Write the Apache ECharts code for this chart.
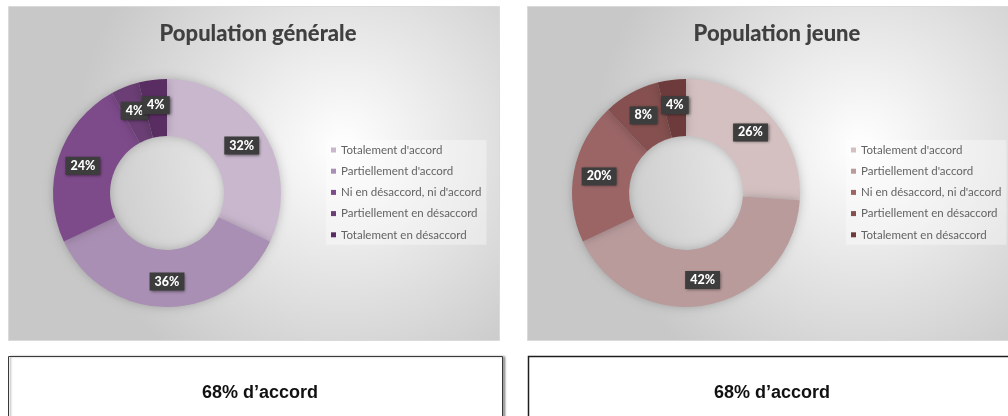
<!DOCTYPE html>
<html>
<head>
<meta charset="utf-8">
<script src="https://cdn.jsdelivr.net/npm/echarts@6/dist/echarts.min.js"></script>
<style>
  html, body { margin: 0; padding: 0; background: #fff; }
  #chart { width: 1008px; height: 416px; }
</style>
</head>
<body>
<div id="chart"></div>
<script>
// answer categories, same for both donuts
const categories = [
  "Totalement d'accord",
  "Partiellement d'accord",
  "Ni en désaccord, ni d'accord",
  'Partiellement en désaccord',
  'Totalement en désaccord'
]
const generalValues = [32, 36, 24, 4, 4]
const youngValues = [26, 42, 20, 8, 4]
const generalColors = ['#c9b7ce', '#a98fb3', '#7d4a8a', '#6b3f75', '#5a2d62']
const youngColors = ['#d4c0c0', '#b99b9c', '#9b6566', '#85504f', '#6d3b3c']
const titles = ['Population générale', 'Population jeune']
const summaries = ['68% d’accord', '68% d’accord']

const panelFill = new echarts.graphic.RadialGradient(0.68, 0.42, 0.8, [
  { offset: 0, color: '#ffffff' },
  { offset: 1, color: '#c8c8c8' }
])

const labelStyle = {
  show: true,
  position: 'inside',
  formatter: '{c}%',
  color: '#fff',
  fontFamily: 'Lato',
  fontWeight: 900,
  fontSize: 12.5,
  backgroundColor: '#3d3d3d',
  padding: [3, 5, 2, 5],
  shadowColor: 'rgba(0,0,0,0.55)',
  shadowBlur: 3,
  shadowOffsetX: 1,
  shadowOffsetY: 1
}

function donut (values, colors, center) {
  return {
    type: 'pie',
    center: center,
    radius: [57, 114],
    startAngle: 90,
    clockwise: true,
    silent: true,
    avoidLabelOverlap: false,
    labelLayout: { hideOverlap: false },
    label: labelStyle,
    labelLine: { show: false },
    itemStyle: { shadowBlur: 10, shadowColor: 'rgba(0,0,0,0.22)' },
    data: values.map((v, i) => ({
      name: categories[i],
      value: v,
      itemStyle: { color: colors[i] }
    }))
  }
}

function legend (left, colors) {
  return {
    orient: 'vertical',
    left: left,
    top: 140,
    padding: [3, 5, 3, 5],
    backgroundColor: 'rgba(255,255,255,0.35)',
    itemWidth: 5,
    itemHeight: 5,
    itemGap: 7.2,
    icon: 'rect',
    selectedMode: false,
    textStyle: { color: '#636363', fontFamily: 'Lato', fontSize: 11.5, lineHeight: 14 },
    data: categories.map((c, i) => ({ name: c, itemStyle: { color: colors[i] } }))
  }
}

const chart = echarts.init(document.getElementById('chart'), null, { renderer: 'canvas' })

const option = {
  animation: false,
  backgroundColor: '#fff',
  title: [
    { text: titles[0], left: 253, top: 18, textAlign: 'center',
      textStyle: { fontFamily: 'Lato', fontWeight: 900, fontSize: 22, color: '#404040' } },
    { text: titles[1], left: 772, top: 18, textAlign: 'center',
      textStyle: { fontFamily: 'Lato', fontWeight: 900, fontSize: 22, color: '#404040' } },
    { text: summaries[0], left: 255, top: 379, textAlign: 'center',
      textStyle: { fontFamily: 'Liberation Sans', fontWeight: 'bold', fontSize: 18, color: '#111' } },
    { text: summaries[1], left: 767, top: 379, textAlign: 'center',
      textStyle: { fontFamily: 'Liberation Sans', fontWeight: 'bold', fontSize: 18, color: '#111' } }
  ],
  graphic: [
    { type: 'rect', z: -10, shape: { x: 8.5, y: 6.5, width: 491, height: 334 },
      style: { fill: panelFill, stroke: '#dadada', lineWidth: 1 } },
    { type: 'rect', z: -10, shape: { x: 527.5, y: 6.5, width: 491, height: 334 },
      style: { fill: panelFill, stroke: '#dadada', lineWidth: 1 } },
    { type: 'rect', z: -10, shape: { x: 8.5, y: 356.5, width: 494, height: 80 },
      style: { fill: '#fff', stroke: '#3a3a3a', lineWidth: 1,
        shadowColor: 'rgba(0,0,0,0.35)', shadowBlur: 2, shadowOffsetX: 2, shadowOffsetY: 0 } },
    { type: 'rect', z: -10, shape: { x: 528.5, y: 356.5, width: 500, height: 80 },
      style: { fill: '#fff', stroke: '#1e1e1e', lineWidth: 1.5 } }
  ],
  legend: [legend(326, generalColors), legend(846, youngColors)],
  series: [
    donut(generalValues, generalColors, [167, 193]),
    donut(youngValues, youngColors, [686, 193])
  ]
}

chart.setOption(option)
</script>
</body>
</html>
